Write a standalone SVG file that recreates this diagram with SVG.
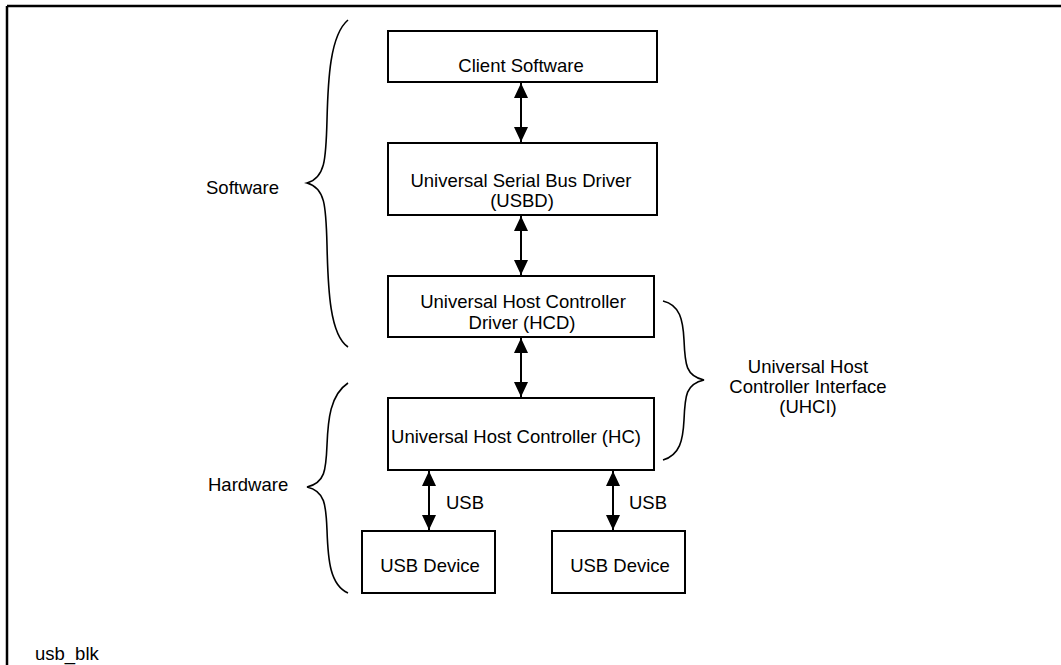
<svg xmlns="http://www.w3.org/2000/svg" width="1061" height="665" viewBox="0 0 1061 665">
<style>
text{font-family:"Liberation Sans",Arial,sans-serif;font-size:18.5px;fill:#000}
.box{fill:#fff;stroke:#000;stroke-width:2}
.conn{stroke:#000;stroke-width:2;fill:none}
.brace{stroke:#000;stroke-width:1.6;fill:none}
.c{text-anchor:middle}
</style>
<defs>
<marker id="ah" markerUnits="userSpaceOnUse" markerWidth="16" markerHeight="14" viewBox="0 0 16 14" refX="15" refY="7" orient="auto-start-reverse">
<path d="M0,0 L15,7 L0,14 Z" fill="#000"/>
</marker>
</defs>
<rect width="1061" height="665" fill="#fff"/>
<g id="frame">
<line x1="7" y1="6" x2="1061" y2="6" stroke="#000" stroke-width="2.5"/>
<line x1="7" y1="6" x2="7" y2="665" stroke="#000" stroke-width="2.5"/>
</g>
<g id="connectors">
<line class="conn" x1="521" y1="83" x2="521" y2="142" marker-start="url(#ah)" marker-end="url(#ah)"/>
<line class="conn" x1="521" y1="216" x2="521" y2="275" marker-start="url(#ah)" marker-end="url(#ah)"/>
<line class="conn" x1="521" y1="338" x2="521" y2="397" marker-start="url(#ah)" marker-end="url(#ah)"/>
<line class="conn" x1="429" y1="471" x2="429" y2="530" marker-start="url(#ah)" marker-end="url(#ah)"/>
<line class="conn" x1="613" y1="471" x2="613" y2="530" marker-start="url(#ah)" marker-end="url(#ah)"/>
<text x="446" y="509">USB</text>
<text x="629" y="509">USB</text>
</g>
<g id="client">
<rect class="box" x="388" y="31" width="269" height="51"/>
<text class="c" x="521" y="72">Client Software</text>
</g>
<g id="usbd">
<rect class="box" x="388" y="143" width="269" height="72"/>
<text class="c" x="521" y="187">Universal Serial Bus Driver</text>
<text class="c" x="522" y="207">(USBD)</text>
</g>
<g id="hcd">
<rect class="box" x="388" y="276" width="266" height="61"/>
<text class="c" x="523" y="308">Universal Host Controller</text>
<text class="c" x="522" y="329">Driver (HCD)</text>
</g>
<g id="hc">
<rect class="box" x="388" y="398" width="266" height="72"/>
<text class="c" x="516" y="443">Universal Host Controller (HC)</text>
</g>
<g id="dev1">
<rect class="box" x="362" y="531" width="133" height="62"/>
<text class="c" x="430" y="572">USB Device</text>
</g>
<g id="dev2">
<rect class="box" x="552" y="531" width="133" height="62"/>
<text class="c" x="620" y="572">USB Device</text>
</g>
<g id="software">
<path class="brace" d="M348,20 C330,35 328,80 327,120 C326,160 325,178 307,183 C325,188 326,205 327,245 C328,290 330,335 348,347"/>
<text x="206" y="194">Software</text>
</g>
<g id="hardware">
<path class="brace" d="M348,383 C330,395 328,420 327,445 C326,470 325,483 307,487 C325,491 326,505 327,530 C328,560 330,585 348,593"/>
<text x="208" y="491">Hardware</text>
</g>
<g id="uhci">
<path class="brace" d="M663,301 C680,305 683,320 684,340 C685,365 686,376 704,380 C686,384 685,395 684,420 C683,440 680,455 663,460"/>
<text class="c" x="808" y="373">Universal Host</text>
<text class="c" x="808" y="393">Controller Interface</text>
<text class="c" x="808" y="413">(UHCI)</text>
</g>
<g id="label">
<text x="35" y="660">usb_blk</text>
</g>
</svg>
